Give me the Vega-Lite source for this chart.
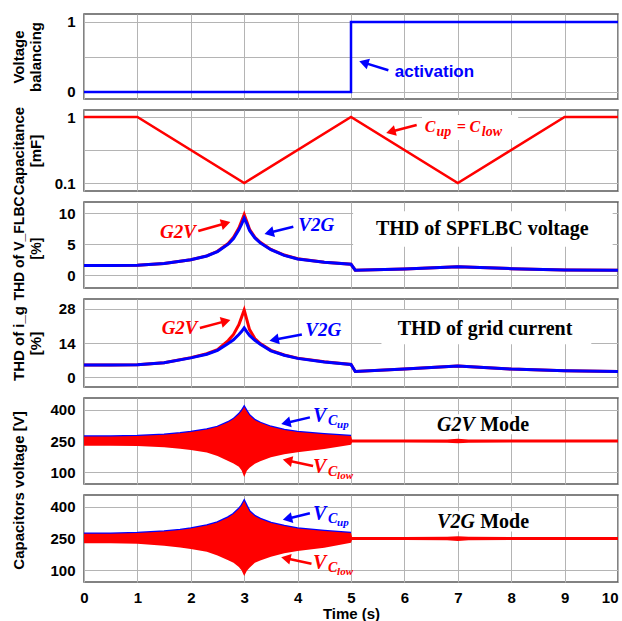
{
"$schema": "https://vega.github.io/schema/vega-lite/v6.json",
"background": "white",
"padding": {"left": 10, "top": 13, "right": 0, "bottom": 0},
"spacing": 11,
"bounds": "flush",
"config": {
  "view": {"stroke": "#5a5a5a", "strokeWidth": 1.5},
  "concat": {"spacing": 11},
  "axis": {"labelFont": "Liberation Sans", "labelFontWeight": "bold", "labelFontSize": 15, "labelColor": "#000000", "titleFont": "Liberation Sans", "titleFontWeight": "bold", "titleFontSize": 15, "titleColor": "#000000", "gridColor": "#b4b4b4", "gridWidth": 1, "gridOpacity": 1, "domain": false, "ticks": false},
  "axisY": {"labelPadding": 9, "titleX": -61, "titleBaseline": "alphabetic", "titleLineHeight": 17.5, "titleAngle": -90},
  "axisX": {"labelPadding": 8, "titlePadding": 1}
},
"datasets": {
  "vb": [{"t": 0, "v": 0}, {"t": 5, "v": 1}, {"t": 10, "v": 1}],
  "cap": [{"t": 0, "v": 1}, {"t": 1, "v": 1}, {"t": 3, "v": 0.1}, {"t": 5, "v": 1}, {"t": 7, "v": 0.1}, {"t": 9, "v": 1}, {"t": 10, "v": 1}],
  "thdv": [
    {"t": 0, "mode": "G2V", "v": 1.55}, {"t": 0.5, "mode": "G2V", "v": 1.55}, {"t": 1, "mode": "G2V", "v": 1.6}, {"t": 1.5, "mode": "G2V", "v": 1.9}, {"t": 2, "mode": "G2V", "v": 2.5}, {"t": 2.3, "mode": "G2V", "v": 3.1}, {"t": 2.5, "mode": "G2V", "v": 3.85}, {"t": 2.7, "mode": "G2V", "v": 5.1}, {"t": 2.8, "mode": "G2V", "v": 6.1}, {"t": 2.9, "mode": "G2V", "v": 7.6}, {"t": 2.95, "mode": "G2V", "v": 8.7}, {"t": 3, "mode": "G2V", "v": 9.8}, {"t": 3.05, "mode": "G2V", "v": 8.6}, {"t": 3.1, "mode": "G2V", "v": 7.4}, {"t": 3.2, "mode": "G2V", "v": 6.1}, {"t": 3.3, "mode": "G2V", "v": 5.3}, {"t": 3.5, "mode": "G2V", "v": 4.15}, {"t": 3.75, "mode": "G2V", "v": 3.25}, {"t": 4, "mode": "G2V", "v": 2.65}, {"t": 4.5, "mode": "G2V", "v": 2.1}, {"t": 5, "mode": "G2V", "v": 1.75}, {"t": 5.08, "mode": "G2V", "v": 0.8}, {"t": 6, "mode": "G2V", "v": 1.0}, {"t": 7, "mode": "G2V", "v": 1.35}, {"t": 8, "mode": "G2V", "v": 1.05}, {"t": 9, "mode": "G2V", "v": 0.85}, {"t": 10, "mode": "G2V", "v": 0.8},
    {"t": 0, "mode": "V2G", "v": 1.55}, {"t": 0.5, "mode": "V2G", "v": 1.55}, {"t": 1, "mode": "V2G", "v": 1.6}, {"t": 1.5, "mode": "V2G", "v": 1.9}, {"t": 2, "mode": "V2G", "v": 2.5}, {"t": 2.3, "mode": "V2G", "v": 3.1}, {"t": 2.5, "mode": "V2G", "v": 3.8}, {"t": 2.7, "mode": "V2G", "v": 5.0}, {"t": 2.8, "mode": "V2G", "v": 5.9}, {"t": 2.9, "mode": "V2G", "v": 7.3}, {"t": 2.95, "mode": "V2G", "v": 8.2}, {"t": 3, "mode": "V2G", "v": 9.2}, {"t": 3.05, "mode": "V2G", "v": 8.3}, {"t": 3.1, "mode": "V2G", "v": 7.2}, {"t": 3.2, "mode": "V2G", "v": 6.0}, {"t": 3.3, "mode": "V2G", "v": 5.2}, {"t": 3.5, "mode": "V2G", "v": 4.1}, {"t": 3.75, "mode": "V2G", "v": 3.2}, {"t": 4, "mode": "V2G", "v": 2.6}, {"t": 4.5, "mode": "V2G", "v": 2.1}, {"t": 5, "mode": "V2G", "v": 1.75}, {"t": 5.08, "mode": "V2G", "v": 0.8}, {"t": 6, "mode": "V2G", "v": 1.0}, {"t": 7, "mode": "V2G", "v": 1.35}, {"t": 8, "mode": "V2G", "v": 1.05}, {"t": 9, "mode": "V2G", "v": 0.85}, {"t": 10, "mode": "V2G", "v": 0.8}
  ],
  "thdi": [
    {"t": 0, "mode": "G2V", "v": 5.0}, {"t": 0.5, "mode": "G2V", "v": 5.0}, {"t": 1, "mode": "G2V", "v": 5.1}, {"t": 1.5, "mode": "G2V", "v": 5.9}, {"t": 2, "mode": "G2V", "v": 8.0}, {"t": 2.3, "mode": "G2V", "v": 9.6}, {"t": 2.5, "mode": "G2V", "v": 11.3}, {"t": 2.7, "mode": "G2V", "v": 15.0}, {"t": 2.8, "mode": "G2V", "v": 17.5}, {"t": 2.9, "mode": "G2V", "v": 21.5}, {"t": 2.95, "mode": "G2V", "v": 24.5}, {"t": 3, "mode": "G2V", "v": 27.5}, {"t": 3.05, "mode": "G2V", "v": 23.5}, {"t": 3.1, "mode": "G2V", "v": 19.5}, {"t": 3.2, "mode": "G2V", "v": 15.8}, {"t": 3.3, "mode": "G2V", "v": 13.8}, {"t": 3.5, "mode": "G2V", "v": 11.0}, {"t": 3.75, "mode": "G2V", "v": 9.1}, {"t": 4, "mode": "G2V", "v": 7.8}, {"t": 4.5, "mode": "G2V", "v": 6.3}, {"t": 5, "mode": "G2V", "v": 5.2}, {"t": 5.08, "mode": "G2V", "v": 2.3}, {"t": 6, "mode": "G2V", "v": 3.3}, {"t": 7, "mode": "G2V", "v": 4.6}, {"t": 8, "mode": "G2V", "v": 3.3}, {"t": 9, "mode": "G2V", "v": 2.6}, {"t": 10, "mode": "G2V", "v": 2.3},
    {"t": 0, "mode": "V2G", "v": 5.0}, {"t": 0.5, "mode": "V2G", "v": 5.0}, {"t": 1, "mode": "V2G", "v": 5.1}, {"t": 1.5, "mode": "V2G", "v": 5.9}, {"t": 2, "mode": "V2G", "v": 7.9}, {"t": 2.3, "mode": "V2G", "v": 9.4}, {"t": 2.5, "mode": "V2G", "v": 11.0}, {"t": 2.7, "mode": "V2G", "v": 13.8}, {"t": 2.8, "mode": "V2G", "v": 15.3}, {"t": 2.9, "mode": "V2G", "v": 17.5}, {"t": 2.95, "mode": "V2G", "v": 18.7}, {"t": 3, "mode": "V2G", "v": 20.2}, {"t": 3.05, "mode": "V2G", "v": 18.6}, {"t": 3.1, "mode": "V2G", "v": 17.1}, {"t": 3.2, "mode": "V2G", "v": 15.1}, {"t": 3.3, "mode": "V2G", "v": 13.5}, {"t": 3.5, "mode": "V2G", "v": 10.8}, {"t": 3.75, "mode": "V2G", "v": 9.0}, {"t": 4, "mode": "V2G", "v": 7.7}, {"t": 4.5, "mode": "V2G", "v": 6.2}, {"t": 5, "mode": "V2G", "v": 5.2}, {"t": 5.08, "mode": "V2G", "v": 2.3}, {"t": 6, "mode": "V2G", "v": 3.3}, {"t": 7, "mode": "V2G", "v": 4.6}, {"t": 8, "mode": "V2G", "v": 3.3}, {"t": 9, "mode": "V2G", "v": 2.6}, {"t": 10, "mode": "V2G", "v": 2.3}
  ],
  "vc5": [
    {"t": 0, "v": 272, "lo": 228}, {"t": 0.5, "v": 272, "lo": 228}, {"t": 1, "v": 274, "lo": 226}, {"t": 1.5, "v": 280, "lo": 220}, {"t": 1.8, "v": 287, "lo": 213}, {"t": 2, "v": 293, "lo": 207}, {"t": 2.3, "v": 305, "lo": 195}, {"t": 2.5, "v": 318, "lo": 178}, {"t": 2.7, "v": 340, "lo": 155}, {"t": 2.8, "v": 355, "lo": 143}, {"t": 2.9, "v": 378, "lo": 127}, {"t": 2.95, "v": 393, "lo": 110}, {"t": 3, "v": 413, "lo": 78}, {"t": 3.05, "v": 392, "lo": 108}, {"t": 3.1, "v": 372, "lo": 122}, {"t": 3.2, "v": 350, "lo": 141}, {"t": 3.3, "v": 337, "lo": 153}, {"t": 3.5, "v": 318, "lo": 172}, {"t": 3.75, "v": 303, "lo": 187}, {"t": 4, "v": 293, "lo": 197}, {"t": 4.5, "v": 283, "lo": 212}, {"t": 5, "v": 274, "lo": 232}, {"t": 5.02, "v": 257, "lo": 243}, {"t": 6, "v": 257, "lo": 243}, {"t": 6.8, "v": 258, "lo": 242}, {"t": 7, "v": 261, "lo": 239}, {"t": 7.2, "v": 258, "lo": 242}, {"t": 8, "v": 257, "lo": 243}, {"t": 9, "v": 257, "lo": 243}, {"t": 10, "v": 257, "lo": 243}
  ],
  "vc6": [
    {"t": 0, "v": 273, "lo": 228}, {"t": 0.5, "v": 273, "lo": 228}, {"t": 1, "v": 276, "lo": 225}, {"t": 1.5, "v": 283, "lo": 216}, {"t": 1.8, "v": 291, "lo": 208}, {"t": 2, "v": 298, "lo": 201}, {"t": 2.3, "v": 312, "lo": 187}, {"t": 2.5, "v": 326, "lo": 170}, {"t": 2.7, "v": 350, "lo": 147}, {"t": 2.8, "v": 366, "lo": 135}, {"t": 2.9, "v": 390, "lo": 115}, {"t": 2.95, "v": 405, "lo": 100}, {"t": 3, "v": 428, "lo": 73}, {"t": 3.05, "v": 402, "lo": 98}, {"t": 3.1, "v": 378, "lo": 112}, {"t": 3.2, "v": 356, "lo": 135}, {"t": 3.3, "v": 343, "lo": 146}, {"t": 3.5, "v": 324, "lo": 164}, {"t": 3.75, "v": 309, "lo": 180}, {"t": 4, "v": 298, "lo": 191}, {"t": 4.5, "v": 286, "lo": 206}, {"t": 5, "v": 276, "lo": 230}, {"t": 5.02, "v": 257, "lo": 243}, {"t": 6, "v": 257, "lo": 243}, {"t": 6.8, "v": 258, "lo": 242}, {"t": 7, "v": 261, "lo": 239}, {"t": 7.2, "v": 258, "lo": 242}, {"t": 8, "v": 257, "lo": 243}, {"t": 9, "v": 257, "lo": 243}, {"t": 10, "v": 257, "lo": 243}
  ]
},
"vconcat": [
  {
    "width": 534, "height": 85,
    "encoding": {
      "x": {"field": "t", "type": "quantitative", "scale": {"domain": [0, 10], "nice": false, "zero": false}, "axis": {"values": [0,1,2,3,4,5,6,7,8,9,10], "labels": false, "title": null}},
      "y": {"field": "v", "type": "quantitative", "scale": {"domain": [-0.1, 1.114], "nice": false, "zero": false}, "axis": {"values": [0, 0.5, 1], "labelExpr": "datum.value == 1 ? '1' : datum.value == 0 ? '0' : ''", "title": ["Voltage", "balancing"]}}
    },
    "layer": [
      {"data": {"name": "vb"}, "mark": {"type": "line", "color": "#0000ff", "strokeWidth": 2.5, "interpolate": "step-after"}, "encoding": {}},
      {"data": {"values": [{"t": 5.24, "v": 0.419, "t2": 5.70, "v2": 0.31}]}, "layer": [
        {"mark": {"type": "rule", "color": "#0000ff", "strokeWidth": 2.5}, "encoding": {"x2": {"field": "t2"}, "y2": {"field": "v2"}}},
        {"mark": {"type": "point", "shape": "triangle-up", "filled": true, "color": "#0000ff", "opacity": 1, "size": 120, "angle": 287}, "encoding": {}}
      ]},
      {"data": {"values": [{"t": 5.82, "v": 0.29, "label": "activation"}]}, "mark": {"type": "text", "align": "left", "baseline": "middle", "font": "Liberation Sans", "fontWeight": "bold", "fontSize": 17, "color": "#0000ff"}, "encoding": {"text": {"field": "label"}}}
    ]
  },
  {
    "width": 534, "height": 81,
    "encoding": {
      "x": {"field": "t", "type": "quantitative", "scale": {"domain": [0, 10], "nice": false, "zero": false}, "axis": {"values": [0,1,2,3,4,5,6,7,8,9,10], "labels": false, "title": null}},
      "y": {"field": "v", "type": "quantitative", "scale": {"type": "log", "domain": [0.0757, 1.277], "nice": false}, "axis": {"values": [0.1, 0.31623, 1], "labelExpr": "datum.value == 1 ? '1' : datum.value == 0.1 ? '0.1' : ''", "title": ["Capacitance", "[mF]"]}}
    },
    "layer": [
      {"data": {"values": [{"t": 6.33, "t2": 8.13, "v": 0.45, "v2": 1.07}]}, "mark": {"type": "rect", "color": "white"}, "encoding": {"x2": {"field": "t2"}, "y2": {"field": "v2"}}},
      {"data": {"name": "cap"}, "mark": {"type": "line", "color": "#ff0000", "strokeWidth": 2.5}, "encoding": {}},
      {"data": {"values": [{"t": 5.745, "v": 0.597, "t2": 6.23, "v2": 0.757}]}, "layer": [
        {"mark": {"type": "rule", "color": "#ff0000", "strokeWidth": 2.5}, "encoding": {"x2": {"field": "t2"}, "y2": {"field": "v2"}}},
        {"mark": {"type": "point", "shape": "triangle-up", "filled": true, "color": "#ff0000", "opacity": 1, "size": 120, "angle": 255}, "encoding": {}}
      ]},
      {"data": {"values": [{"t": 6.38, "v": 0.698, "s": "C"}, {"t": 6.98, "v": 0.698, "s": "="}, {"t": 7.22, "v": 0.698, "s": "C"}]}, "mark": {"type": "text", "align": "left", "baseline": "middle", "font": "Liberation Serif", "fontStyle": "italic", "fontWeight": "bold", "fontSize": 16, "color": "#ff0000"}, "encoding": {"text": {"field": "s"}}},
      {"data": {"values": [{"t": 6.6, "v": 0.698, "s": "up"}, {"t": 7.45, "v": 0.698, "s": "low"}]}, "mark": {"type": "text", "align": "left", "baseline": "middle", "dy": 5, "font": "Liberation Serif", "fontStyle": "italic", "fontWeight": "bold", "fontSize": 14, "color": "#ff0000"}, "encoding": {"text": {"field": "s"}}}
    ]
  },
  {
    "width": 534, "height": 86,
    "encoding": {
      "x": {"field": "t", "type": "quantitative", "scale": {"domain": [0, 10], "nice": false, "zero": false}, "axis": {"values": [0,1,2,3,4,5,6,7,8,9,10], "labels": false, "title": null}},
      "y": {"field": "v", "type": "quantitative", "scale": {"domain": [-2.07, 11.8], "nice": false, "zero": false}, "axis": {"values": [0, 5, 10], "format": "d", "title": ["THD of V_FLBC", "[%]"], "titleFontSize": 14, "titleY": 46}}
    },
    "layer": [
      {"data": {"values": [{"t": 5.04, "t2": 9.9, "v": 4.6, "v2": 10.3}]}, "mark": {"type": "rect", "color": "white"}, "encoding": {"x2": {"field": "t2"}, "y2": {"field": "v2"}}},
      {"data": {"name": "thdv"}, "transform": [{"filter": "datum.mode == 'G2V'"}], "mark": {"type": "line", "color": "#ff0000", "strokeWidth": 3}, "encoding": {}},
      {"data": {"name": "thdv"}, "transform": [{"filter": "datum.mode == 'V2G'"}], "mark": {"type": "line", "color": "#0000ff", "strokeWidth": 3}, "encoding": {}},
      {"data": {"values": [{"t": 2.655, "v": 8.36, "t2": 2.14, "v2": 7.13}]}, "layer": [
        {"mark": {"type": "rule", "color": "#ff0000", "strokeWidth": 2.5}, "encoding": {"x2": {"field": "t2"}, "y2": {"field": "v2"}}},
        {"mark": {"type": "point", "shape": "triangle-up", "filled": true, "color": "#ff0000", "opacity": 1, "size": 120, "angle": 74}, "encoding": {}}
      ]},
      {"data": {"values": [{"t": 3.466, "v": 6.83, "t2": 3.92, "v2": 7.81}]}, "layer": [
        {"mark": {"type": "rule", "color": "#0000ff", "strokeWidth": 2.5}, "encoding": {"x2": {"field": "t2"}, "y2": {"field": "v2"}}},
        {"mark": {"type": "point", "shape": "triangle-up", "filled": true, "color": "#0000ff", "opacity": 1, "size": 120, "angle": 256}, "encoding": {}}
      ]},
      {"data": {"values": [{"t": 1.76, "v": 7.0, "s": "G2V"}]}, "mark": {"type": "text", "align": "center", "baseline": "middle", "font": "Liberation Serif", "fontStyle": "italic", "fontWeight": "bold", "fontSize": 19, "color": "#ff0000"}, "encoding": {"text": {"field": "s"}}},
      {"data": {"values": [{"t": 4.35, "v": 8.1, "s": "V2G"}]}, "mark": {"type": "text", "align": "center", "baseline": "middle", "font": "Liberation Serif", "fontStyle": "italic", "fontWeight": "bold", "fontSize": 19, "color": "#0000ff"}, "encoding": {"text": {"field": "s"}}},
      {"data": {"values": [{"t": 7.46, "v": 7.5, "s": "THD of SPFLBC voltage"}]}, "mark": {"type": "text", "align": "center", "baseline": "middle", "font": "Liberation Serif", "fontWeight": "bold", "fontSize": 20, "color": "#000000"}, "encoding": {"text": {"field": "s"}}}
    ]
  },
  {
    "width": 534, "height": 88,
    "encoding": {
      "x": {"field": "t", "type": "quantitative", "scale": {"domain": [0, 10], "nice": false, "zero": false}, "axis": {"values": [0,1,2,3,4,5,6,7,8,9,10], "labels": false, "title": null}},
      "y": {"field": "v", "type": "quantitative", "scale": {"domain": [-4.03, 32.03], "nice": false, "zero": false}, "axis": {"values": [0, 14, 28], "format": "d", "title": ["THD of i_g", "[%]"]}}
    },
    "layer": [
      {"data": {"values": [{"t": 5.57, "t2": 9.5, "v": 13.5, "v2": 27.5}]}, "mark": {"type": "rect", "color": "white"}, "encoding": {"x2": {"field": "t2"}, "y2": {"field": "v2"}}},
      {"data": {"name": "thdi"}, "transform": [{"filter": "datum.mode == 'G2V'"}], "mark": {"type": "line", "color": "#ff0000", "strokeWidth": 3}, "encoding": {}},
      {"data": {"name": "thdi"}, "transform": [{"filter": "datum.mode == 'V2G'"}], "mark": {"type": "line", "color": "#0000ff", "strokeWidth": 3}, "encoding": {}},
      {"data": {"values": [{"t": 2.655, "v": 22.95, "t2": 2.17, "v2": 20.17}]}, "layer": [
        {"mark": {"type": "rule", "color": "#ff0000", "strokeWidth": 2.5}, "encoding": {"x2": {"field": "t2"}, "y2": {"field": "v2"}}},
        {"mark": {"type": "point", "shape": "triangle-up", "filled": true, "color": "#ff0000", "opacity": 1, "size": 120, "angle": 75}, "encoding": {}}
      ]},
      {"data": {"values": [{"t": 3.56, "v": 15.29, "t2": 4.08, "v2": 17.5}]}, "layer": [
        {"mark": {"type": "rule", "color": "#0000ff", "strokeWidth": 2.5}, "encoding": {"x2": {"field": "t2"}, "y2": {"field": "v2"}}},
        {"mark": {"type": "point", "shape": "triangle-up", "filled": true, "color": "#0000ff", "opacity": 1, "size": 120, "angle": 259}, "encoding": {}}
      ]},
      {"data": {"values": [{"t": 1.79, "v": 20.2, "s": "G2V"}]}, "mark": {"type": "text", "align": "center", "baseline": "middle", "font": "Liberation Serif", "fontStyle": "italic", "fontWeight": "bold", "fontSize": 19, "color": "#ff0000"}, "encoding": {"text": {"field": "s"}}},
      {"data": {"values": [{"t": 4.48, "v": 19.5, "s": "V2G"}]}, "mark": {"type": "text", "align": "center", "baseline": "middle", "font": "Liberation Serif", "fontStyle": "italic", "fontWeight": "bold", "fontSize": 19, "color": "#0000ff"}, "encoding": {"text": {"field": "s"}}},
      {"data": {"values": [{"t": 7.51, "v": 19.9, "s": "THD of grid current"}]}, "mark": {"type": "text", "align": "center", "baseline": "middle", "font": "Liberation Serif", "fontWeight": "bold", "fontSize": 20, "color": "#000000"}, "encoding": {"text": {"field": "s"}}}
    ]
  },
  {
    "width": 534, "height": 86,
    "encoding": {
      "x": {"field": "t", "type": "quantitative", "scale": {"domain": [0, 10], "nice": false, "zero": false}, "axis": {"values": [0,1,2,3,4,5,6,7,8,9,10], "labels": false, "title": null}},
      "y": {"field": "v", "type": "quantitative", "scale": {"domain": [44.5, 456], "nice": false, "zero": false}, "axis": {"values": [100, 250, 400], "format": "d", "title": "Capacitors voltage [V]", "titleY": 92}}
    },
    "layer": [
      {"data": {"values": [{"t": 6.6, "t2": 8.5, "v": 282, "v2": 378}]}, "mark": {"type": "rect", "color": "white"}, "encoding": {"x2": {"field": "t2"}, "y2": {"field": "v2"}}},
      {"data": {"name": "vc5"}, "transform": [{"filter": "datum.t <= 5"}], "mark": {"type": "line", "color": "#0000ff", "strokeWidth": 2.5}, "encoding": {}},
      {"data": {"name": "vc5"}, "mark": {"type": "area", "color": "#ff0000", "opacity": 1}, "encoding": {"y2": {"field": "lo"}}},
      {"data": {"values": [{"t": 3.78, "v": 336.6, "t2": 4.23, "v2": 363.4}]}, "layer": [
        {"mark": {"type": "rule", "color": "#0000ff", "strokeWidth": 2.5}, "encoding": {"x2": {"field": "t2"}, "y2": {"field": "v2"}}},
        {"mark": {"type": "point", "shape": "triangle-up", "filled": true, "color": "#0000ff", "opacity": 1, "size": 120, "angle": 257}, "encoding": {}}
      ]},
      {"data": {"values": [{"t": 3.81, "v": 156.7, "t2": 4.29, "v2": 130.4}]}, "layer": [
        {"mark": {"type": "rule", "color": "#ff0000", "strokeWidth": 2.5}, "encoding": {"x2": {"field": "t2"}, "y2": {"field": "v2"}}},
        {"mark": {"type": "point", "shape": "triangle-up", "filled": true, "color": "#ff0000", "opacity": 1, "size": 120, "angle": 282}, "encoding": {}}
      ]},
      {"data": {"values": [{"t": 4.29, "v": 370, "s": "V"}]}, "mark": {"type": "text", "align": "left", "baseline": "middle", "font": "Liberation Serif", "fontStyle": "italic", "fontWeight": "bold", "fontSize": 20, "color": "#0000ff"}, "encoding": {"text": {"field": "s"}}},
      {"data": {"values": [{"t": 4.57, "v": 370, "s": "C"}]}, "mark": {"type": "text", "align": "left", "baseline": "middle", "dy": 5, "font": "Liberation Serif", "fontStyle": "italic", "fontWeight": "bold", "fontSize": 14, "color": "#0000ff"}, "encoding": {"text": {"field": "s"}}},
      {"data": {"values": [{"t": 4.74, "v": 370, "s": "up"}]}, "mark": {"type": "text", "align": "left", "baseline": "middle", "dy": 9, "font": "Liberation Serif", "fontStyle": "italic", "fontWeight": "bold", "fontSize": 11, "color": "#0000ff"}, "encoding": {"text": {"field": "s"}}},
      {"data": {"values": [{"t": 4.29, "v": 127, "s": "V"}]}, "mark": {"type": "text", "align": "left", "baseline": "middle", "font": "Liberation Serif", "fontStyle": "italic", "fontWeight": "bold", "fontSize": 20, "color": "#ff0000"}, "encoding": {"text": {"field": "s"}}},
      {"data": {"values": [{"t": 4.57, "v": 127, "s": "C"}]}, "mark": {"type": "text", "align": "left", "baseline": "middle", "dy": 5, "font": "Liberation Serif", "fontStyle": "italic", "fontWeight": "bold", "fontSize": 14, "color": "#ff0000"}, "encoding": {"text": {"field": "s"}}},
      {"data": {"values": [{"t": 4.74, "v": 127, "s": "low"}]}, "mark": {"type": "text", "align": "left", "baseline": "middle", "dy": 9, "font": "Liberation Serif", "fontStyle": "italic", "fontWeight": "bold", "fontSize": 11, "color": "#ff0000"}, "encoding": {"text": {"field": "s"}}},
      {"data": {"values": [{"t": 7.32, "v": 325, "s": "G2V"}]}, "mark": {"type": "text", "align": "right", "baseline": "middle", "font": "Liberation Serif", "fontStyle": "italic", "fontWeight": "bold", "fontSize": 20, "color": "#000000"}, "encoding": {"text": {"field": "s"}}},
      {"data": {"values": [{"t": 7.42, "v": 325, "s": "Mode"}]}, "mark": {"type": "text", "align": "left", "baseline": "middle", "font": "Liberation Serif", "fontWeight": "bold", "fontSize": 20, "color": "#000000"}, "encoding": {"text": {"field": "s"}}}
    ]
  },
  {
    "width": 534, "height": 87,
    "encoding": {
      "x": {"field": "t", "type": "quantitative", "scale": {"domain": [0, 10], "nice": false, "zero": false}, "axis": {"values": [0,1,2,3,4,5,6,7,8,9,10], "title": "Time (s)", "labelAlign": {"expr": "datum.value == 10 ? 'right' : 'center'"}, "labelDx": {"expr": "datum.value == 10 ? 4 : 0"}}},
      "y": {"field": "v", "type": "quantitative", "scale": {"domain": [44.5, 456], "nice": false, "zero": false}, "axis": {"values": [100, 250, 400], "format": "d", "title": null}}
    },
    "layer": [
      {"data": {"values": [{"t": 6.6, "t2": 8.5, "v": 283, "v2": 379}]}, "mark": {"type": "rect", "color": "white"}, "encoding": {"x2": {"field": "t2"}, "y2": {"field": "v2"}}},
      {"data": {"name": "vc6"}, "transform": [{"filter": "datum.t <= 5"}], "mark": {"type": "line", "color": "#0000ff", "strokeWidth": 2.5}, "encoding": {}},
      {"data": {"name": "vc6"}, "mark": {"type": "area", "color": "#ff0000", "opacity": 1}, "encoding": {"y2": {"field": "lo"}}},
      {"data": {"values": [{"t": 3.81, "v": 344, "t2": 4.23, "v2": 369.6}]}, "layer": [
        {"mark": {"type": "rule", "color": "#0000ff", "strokeWidth": 2.5}, "encoding": {"x2": {"field": "t2"}, "y2": {"field": "v2"}}},
        {"mark": {"type": "point", "shape": "triangle-up", "filled": true, "color": "#0000ff", "opacity": 1, "size": 120, "angle": 257}, "encoding": {}}
      ]},
      {"data": {"values": [{"t": 3.78, "v": 156.7, "t2": 4.26, "v2": 130.4}]}, "layer": [
        {"mark": {"type": "rule", "color": "#ff0000", "strokeWidth": 2.5}, "encoding": {"x2": {"field": "t2"}, "y2": {"field": "v2"}}},
        {"mark": {"type": "point", "shape": "triangle-up", "filled": true, "color": "#ff0000", "opacity": 1, "size": 120, "angle": 282}, "encoding": {}}
      ]},
      {"data": {"values": [{"t": 4.29, "v": 366, "s": "V"}]}, "mark": {"type": "text", "align": "left", "baseline": "middle", "font": "Liberation Serif", "fontStyle": "italic", "fontWeight": "bold", "fontSize": 20, "color": "#0000ff"}, "encoding": {"text": {"field": "s"}}},
      {"data": {"values": [{"t": 4.57, "v": 366, "s": "C"}]}, "mark": {"type": "text", "align": "left", "baseline": "middle", "dy": 5, "font": "Liberation Serif", "fontStyle": "italic", "fontWeight": "bold", "fontSize": 14, "color": "#0000ff"}, "encoding": {"text": {"field": "s"}}},
      {"data": {"values": [{"t": 4.74, "v": 366, "s": "up"}]}, "mark": {"type": "text", "align": "left", "baseline": "middle", "dy": 9, "font": "Liberation Serif", "fontStyle": "italic", "fontWeight": "bold", "fontSize": 11, "color": "#0000ff"}, "encoding": {"text": {"field": "s"}}},
      {"data": {"values": [{"t": 4.29, "v": 135, "s": "V"}]}, "mark": {"type": "text", "align": "left", "baseline": "middle", "font": "Liberation Serif", "fontStyle": "italic", "fontWeight": "bold", "fontSize": 20, "color": "#ff0000"}, "encoding": {"text": {"field": "s"}}},
      {"data": {"values": [{"t": 4.57, "v": 135, "s": "C"}]}, "mark": {"type": "text", "align": "left", "baseline": "middle", "dy": 5, "font": "Liberation Serif", "fontStyle": "italic", "fontWeight": "bold", "fontSize": 14, "color": "#ff0000"}, "encoding": {"text": {"field": "s"}}},
      {"data": {"values": [{"t": 4.74, "v": 135, "s": "low"}]}, "mark": {"type": "text", "align": "left", "baseline": "middle", "dy": 9, "font": "Liberation Serif", "fontStyle": "italic", "fontWeight": "bold", "fontSize": 11, "color": "#ff0000"}, "encoding": {"text": {"field": "s"}}},
      {"data": {"values": [{"t": 7.32, "v": 329, "s": "V2G"}]}, "mark": {"type": "text", "align": "right", "baseline": "middle", "font": "Liberation Serif", "fontStyle": "italic", "fontWeight": "bold", "fontSize": 20, "color": "#000000"}, "encoding": {"text": {"field": "s"}}},
      {"data": {"values": [{"t": 7.42, "v": 329, "s": "Mode"}]}, "mark": {"type": "text", "align": "left", "baseline": "middle", "font": "Liberation Serif", "fontWeight": "bold", "fontSize": 20, "color": "#000000"}, "encoding": {"text": {"field": "s"}}}
    ]
  }
]
}
